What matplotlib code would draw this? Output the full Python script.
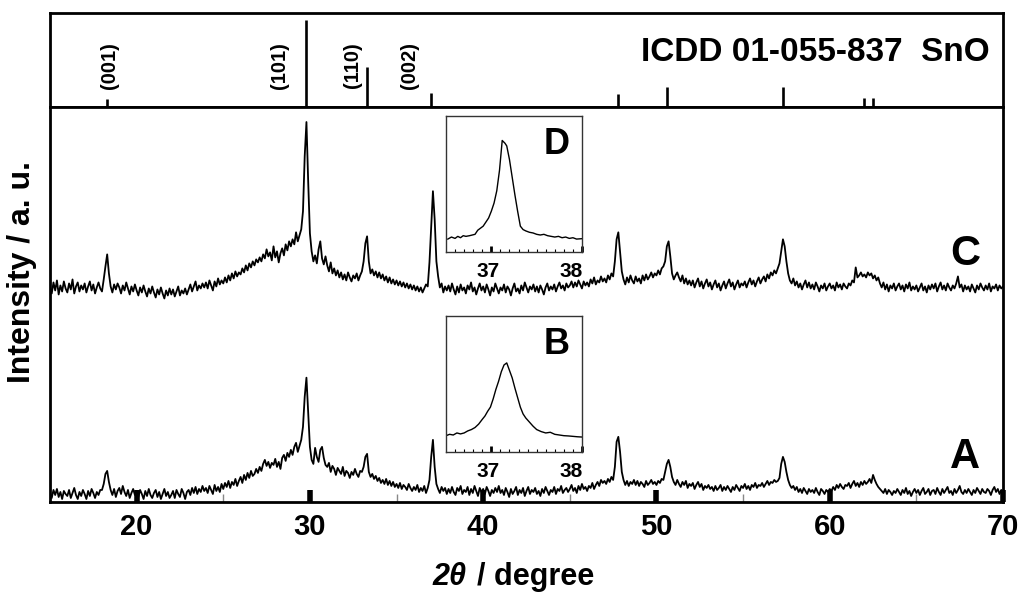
import matplotlib
matplotlib.use("Agg")
import matplotlib.pyplot as plt
import numpy as np

plt.rcParams['font.family'] = ['Liberation Sans', 'DejaVu Sans']
plt.rcParams['font.weight'] = 'bold'

# 2theta grid of the scans, 0.1 degree steps from 15 to 70
two_theta = np.round(np.arange(150, 701) / 10.0, 1)

# sample A (lower scan)
trace_a = [
    9, 4, 12, 7, 13, 5, 10, 3, 11, 8,
    6, 12, 4, 9, 14, 7, 3, 10, 6, 12,
    8, 3, 11, 6, 13, 9, 4, 10, 7, 12,
    12, 18, 28, 31, 20, 12, 7, 13, 5, 11,
    14, 8, 16, 10, 6, 12, 4, 9, 13, 7,
    10, 5, 12, 8, 3, 11, 6, 13, 7, 4,
    9, 12, 5, 10, 3, 8, 13, 6, 10, 4,
    7, 11, 4, 12, 8, 5, 13, 9, 3, 10,
    12, 7, 14, 9, 15, 8, 13, 10, 16, 11,
    14, 9, 16, 12, 8, 17, 11, 15, 10, 18,
    13, 19, 15, 21, 14, 20, 17, 23, 16, 21,
    25, 19, 27, 22, 29, 24, 31, 26, 28, 33,
    29, 35, 31, 38, 42, 36, 40, 34, 39, 37,
    43, 35, 40, 33, 44, 47, 41, 49, 45, 52,
    47, 55, 59, 50, 56, 62, 75, 105, 124, 90,
    55, 42, 38, 54, 45, 40, 52, 55, 44, 37,
    35, 39, 30, 36, 33, 27, 34, 31, 28, 35,
    26, 31, 29, 24, 30, 27, 33, 28, 25, 31,
    30, 35, 45, 48, 30, 25, 28, 23, 26, 21,
    24, 19, 22, 18, 23, 17, 21, 16, 20, 15,
    18, 14, 19, 13, 17, 15, 12, 18, 14, 11,
    15, 12, 17, 10, 14, 11, 16, 9, 14, 22,
    45, 62, 35, 18, 13, 9, 15, 11, 14, 8,
    13, 9, 15, 10, 7, 14, 11, 16, 8, 12,
    10, 15, 7, 13, 9, 16, 11, 6, 14, 10,
    13, 8, 15, 11, 6, 12, 9, 14, 10, 16,
    9, 12, 7, 14, 10, 5, 13, 8, 11, 15,
    7, 12, 9, 14, 6, 11, 15, 8, 12, 10,
    14, 8, 11, 6, 13, 9, 15, 11, 7, 12,
    10, 15, 8, 13, 11, 16, 9, 12, 14, 10,
    13, 17, 11, 14, 9, 16, 12, 18, 13, 15,
    11, 16, 14, 19, 13, 17, 20, 16, 22, 19,
    21, 18, 23, 20, 25, 22, 35, 60, 65, 50,
    30, 22, 17, 21, 16, 20, 18, 22, 17, 21,
    16, 20, 18, 15, 21, 17, 19, 22, 18, 20,
    17, 21, 19, 23, 22, 30, 38, 42, 35, 25,
    20, 17, 22, 18, 15, 20, 17, 21, 14, 18,
    16, 19, 13, 17, 20, 15, 18, 12, 16, 14,
    17, 13, 15, 11, 16, 12, 14, 17, 11, 15,
    12, 16, 13, 10, 15, 12, 17, 14, 11, 16,
    14, 18, 13, 16, 12, 17, 15, 19, 14, 17,
    16, 19, 15, 18, 21, 17, 20, 19, 22, 20,
    21, 24, 38, 45, 40, 30, 22, 17, 14, 16,
    12, 15, 10, 13, 9, 14, 11, 8, 13, 10,
    12, 9, 14, 10, 7, 13, 11, 8, 12, 10,
    13, 11, 15, 12, 17, 14, 18, 15, 13, 17,
    16, 19, 14, 18, 21, 16, 19, 15, 20, 17,
    21, 18, 20, 23, 19, 27, 22, 18, 15, 13,
    11, 9, 13, 8, 12, 10, 7, 11, 9, 13,
    10, 7, 12, 9, 14, 8, 11, 6, 10, 13,
    9, 12, 7, 11, 14, 8, 10, 13, 7, 11,
    12, 8, 14, 10, 7, 13, 9, 12, 15, 9,
    11, 7, 13, 9, 12, 16, 10, 8, 12, 9,
    13, 10, 7, 12, 9, 14, 11, 8, 13, 10,
    9, 13, 11, 7, 12, 15, 10, 13, 8, 12,
    10,
]

# sample C (upper scan, offset)
trace_c = [
    214, 208, 219, 211, 221, 207, 216, 210, 220, 213,
    209, 218, 212, 222, 208, 215, 219, 210, 216, 212,
    218, 209, 215, 220, 211, 217, 208, 214, 219, 213,
    210, 222, 235, 247, 228, 215, 209, 217, 212, 218,
    214, 208, 216, 211, 219, 213, 207, 215, 210, 217,
    211, 206, 214, 209, 216, 210, 205, 213, 208, 215,
    209, 204, 212, 207, 214, 208, 203, 211, 206, 213,
    207, 212, 205, 210, 215, 206, 211, 208, 213, 207,
    212, 217, 210, 215, 220, 211, 216, 213, 218, 214,
    219, 213, 221, 216, 211, 220, 215, 223, 217, 221,
    218, 224, 219, 226, 221, 228, 223, 230, 225, 229,
    227, 233, 229, 236, 231, 238, 234, 240, 236, 242,
    239, 244, 240, 247, 243, 252, 245, 249, 241, 255,
    244, 250, 239, 248, 253, 246, 257, 251, 260, 255,
    262, 257, 269, 260, 266, 272, 290, 345, 379, 320,
    268, 250, 240, 246, 238, 252, 260, 243, 237, 245,
    236, 230, 239, 228, 233, 226, 231, 224, 229, 222,
    227, 221, 229, 224, 220, 226, 223, 228, 221, 226,
    230, 240, 258, 265, 240, 228, 232, 226, 230, 224,
    229, 223, 227, 221, 225, 219, 224, 218, 222, 217,
    221, 216, 220, 215, 219, 214, 218, 213, 217, 212,
    216, 211, 215, 210, 214, 209, 213, 217, 215, 239,
    275, 310, 282, 240, 225, 214, 218, 209, 215, 211,
    216, 210, 218, 212, 207, 215, 209, 217, 211, 214,
    208, 216, 212, 219, 210, 214, 207, 213, 218, 211,
    215, 209, 217, 212, 206, 214, 210, 218, 213, 208,
    214, 211, 217, 209, 215, 212, 206, 213, 218, 210,
    213, 208, 216, 211, 219, 214, 209, 215, 212, 217,
    210, 215, 209, 216, 212, 207, 214, 218, 211, 215,
    212, 217, 210, 215, 219, 213, 216, 211, 218, 214,
    216, 220, 214, 219, 215, 221, 217, 213, 220, 216,
    219, 215, 222, 218, 224, 217, 221, 219, 225, 220,
    223, 219, 226, 222, 228, 225, 240, 262, 269, 250,
    230, 222, 217, 224, 219, 226, 221, 218, 225, 220,
    223, 218, 226, 221, 227, 222, 225, 229, 224, 228,
    226, 231, 227, 233, 235, 240, 255, 260, 245, 228,
    222, 226, 229, 224, 220, 226, 218, 223, 217, 221,
    216, 221, 214, 219, 223, 215, 220, 213, 218, 222,
    215, 219, 212, 217, 221, 214, 218, 211, 216, 220,
    213, 218, 222, 215, 219, 212, 217, 221, 214, 218,
    216, 220, 214, 219, 223, 217, 221, 215, 220, 224,
    218, 222, 225, 220, 227, 223, 229, 226, 231, 228,
    233, 238, 250, 262, 255, 240, 228, 221, 218, 223,
    216, 220, 214, 218, 212, 217, 221, 214, 219, 213,
    217, 212, 219, 215, 210, 216, 213, 218, 211, 215,
    218, 213, 216, 211, 219, 214, 217, 212, 218, 215,
    213, 218, 216, 221, 219, 234, 224, 226, 229, 225,
    227, 224, 229, 226, 228, 223, 226, 221, 224, 218,
    214, 219, 212, 217, 210, 216, 213, 218, 211, 215,
    218, 212, 216, 210, 217, 213, 219, 211, 215, 212,
    216, 210, 214, 218, 211, 215, 209, 216, 212, 217,
    213, 218, 210, 215, 219, 212, 216, 211, 218, 214,
    211, 216, 213, 218, 225, 214, 217, 210, 216, 212,
    215, 210, 217, 213, 209, 216, 212, 218, 214, 211,
    216, 212, 218, 210, 215, 213, 217, 211, 216, 213,
    215,
]

# ICDD 01-055-837 SnO reference lines
ref_pos = [18.3, 29.8, 33.3, 37.0, 47.8, 50.6, 57.3, 62.0, 62.5]
ref_int = [9, 100, 46, 16, 15, 23, 23, 10, 10]
ref_hkl = ['(001)', '(101)', '(110)', '(002)']
hkl_x = [18.46, 28.27, 32.43, 35.77]

# zoomed (002) peak, insets D (sample C) and B (sample A)
zoom_d_x = [36.52, 36.56, 36.6, 36.63, 36.66, 36.69, 36.72, 36.76, 36.79, 36.82,
            36.85, 36.88, 36.91, 36.94, 36.97, 37.0, 37.03, 37.06, 37.09, 37.12,
            37.15, 37.17, 37.2, 37.23, 37.26, 37.29, 37.32, 37.35, 37.38, 37.42,
            37.46, 37.5, 37.54, 37.58, 37.62, 37.66, 37.7, 37.74, 37.78, 37.82,
            37.86, 37.9, 37.94, 38.0]
zoom_d_y = [0.095, 0.11, 0.10, 0.115, 0.105, 0.12, 0.115, 0.12, 0.125, 0.13,
            0.16, 0.175, 0.19, 0.22, 0.25, 0.30, 0.36, 0.45, 0.60, 0.82,
            0.80, 0.78, 0.68, 0.55, 0.42, 0.30, 0.19, 0.165, 0.155, 0.145,
            0.14, 0.13, 0.125, 0.13, 0.12, 0.115, 0.11, 0.115, 0.105, 0.11,
            0.10, 0.105, 0.095, 0.098]
zoom_b_x = [36.5, 36.54, 36.58, 36.62, 36.66, 36.7, 36.74, 36.78, 36.82, 36.86,
            36.9, 36.93, 36.96, 36.99, 37.02, 37.05, 37.08, 37.11, 37.14, 37.17,
            37.2, 37.23, 37.26, 37.29, 37.32, 37.35, 37.38, 37.42, 37.46, 37.5,
            37.55, 37.6, 37.65, 37.7, 37.75, 37.8, 37.85, 37.9, 37.95, 38.0]
zoom_b_y = [0.12, 0.13, 0.125, 0.14, 0.133, 0.14, 0.155, 0.165, 0.18, 0.205,
            0.24, 0.265, 0.30, 0.33, 0.39, 0.46, 0.52, 0.59, 0.64, 0.655,
            0.60, 0.545, 0.47, 0.40, 0.33, 0.28, 0.25, 0.22, 0.19, 0.165,
            0.15, 0.14, 0.145, 0.13, 0.125, 0.12, 0.118, 0.115, 0.112, 0.11]

W, H = 1024, 601
fig = plt.figure(figsize=(W / 100, H / 100), dpi=100)

def box(x0, y0, x1, y1):
    return [x0 / W, 1 - y1 / H, (x1 - x0) / W, (y1 - y0) / H]

ax_ref = fig.add_axes(box(50, 13, 1003, 107))
ax = fig.add_axes(box(50, 107, 1003, 502))

# reference sticks
ax_ref.vlines(ref_pos, 0, ref_int, color='black', lw=1.9)
ax_ref.set_xlim(15, 70)
ax_ref.set_ylim(0, 108)
ax_ref.set_xticks([])
ax_ref.set_yticks([])
for s in ax_ref.spines.values():
    s.set_linewidth(2)
for lab, x in zip(ref_hkl, hkl_x):
    ax_ref.text(x, 48, lab, rotation=90, ha='center', va='center',
                fontsize=14.5, fontweight='bold')
ax_ref.text(69.24, 63, 'ICDD 01-055-837  SnO', ha='right', va='center',
            fontsize=24, fontweight='bold')

# main scans
ax.plot(two_theta, trace_c, color='black', lw=1.3)
ax.plot(two_theta, trace_a, color='black', lw=1.3)
ax.set_xlim(15, 70)
ax.set_ylim(0, 394)
ax.set_yticks([])
ax.set_xticks([20, 30, 40, 50, 60, 70])
ax.set_xticks([25, 35, 45, 55, 65], minor=True)
ax.tick_params(axis='x', which='major', direction='in', length=9, width=4,
               labelsize=21, pad=8)
ax.tick_params(axis='x', which='minor', direction='in', length=6, width=1,
               color='#888888')
for lab in ax.get_xticklabels():
    lab.set_fontweight('bold')
for s in ax.spines.values():
    s.set_linewidth(2)
ax.text(67.8, 247, 'C', ha='center', va='center', fontsize=30, fontweight='bold')
ax.text(67.8, 45, 'A', ha='center', va='center', fontsize=30, fontweight='bold')

fig.text(22 / W, 1 - 272 / H, 'Intensity / a. u.', rotation=90, ha='center',
         va='center', fontsize=23, fontweight='bold')
fig.text(466 / W, 1 - 577 / H, '2θ', ha='right', va='center', fontsize=22,
         fontweight='bold', fontstyle='italic')
fig.text(477 / W, 1 - 577 / H, '/ degree', ha='left', va='center', fontsize=22,
         fontweight='bold')

# insets
for (y0, y1), xs, ys, tag in [((116, 252), zoom_d_x, zoom_d_y, 'D'),
                              ((316, 452), zoom_b_x, zoom_b_y, 'B')]:
    ins = fig.add_axes(box(446, y0, 582, y1))
    ins.plot(xs, ys, color='black', lw=1.0)
    ins.set_xlim(36.5, 38.0)
    ins.set_ylim(0, 1)
    ins.set_yticks([])
    ins.set_xticks([37, 38])
    ins.set_xticklabels([])
    ins.set_xticks(np.round(np.arange(366, 381) / 10.0, 1), minor=True)
    ins.tick_params(axis='x', which='major', direction='in', length=4, width=2)
    ins.tick_params(axis='x', which='minor', direction='in', length=2.5, width=0.8)
    for s in ins.spines.values():
        s.set_linewidth(1)
        s.set_color('#333333')
    ins.text(0.31, -0.14, '37', transform=ins.transAxes, ha='center', va='center',
             fontsize=15, fontweight='bold')
    ins.text(0.92, -0.14, '38', transform=ins.transAxes, ha='center', va='center',
             fontsize=15, fontweight='bold')
    ins.text(0.81, 0.79, tag, transform=ins.transAxes, ha='center', va='center',
             fontsize=26, fontweight='bold')

fig.savefig('out.png', dpi=100)
